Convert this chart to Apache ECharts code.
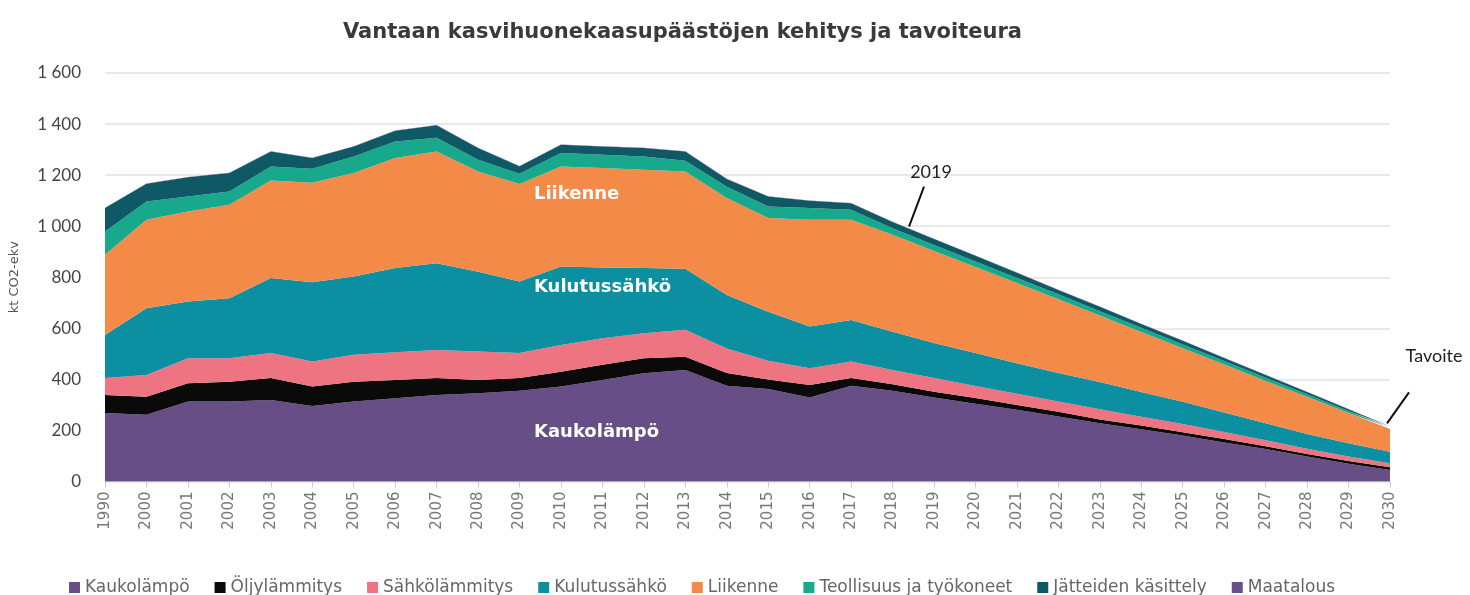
<!DOCTYPE html>
<html>
<head>
<meta charset="utf-8">
<title>Vantaan kasvihuonekaasupäästöt</title>
<script src="https://cdn.jsdelivr.net/npm/echarts@6/dist/echarts.min.js"></script>
<style>
  html, body { margin: 0; padding: 0; background: #fff; }
  #main { width: 1470px; height: 595px; }
</style>
</head>
<body>
<div id="main"></div>
<script>
// vuodet (1990 + 2000–2030)
const years = ['1990', '2000', '2001', '2002', '2003', '2004', '2005', '2006', '2007', '2008',
  '2009', '2010', '2011', '2012', '2013', '2014', '2015', '2016', '2017', '2018', '2019',
  '2020', '2021', '2022', '2023', '2024', '2025', '2026', '2027', '2028', '2029', '2030']

// kt CO2-ekv, luettu kuvasta
const kaukolampo = [268, 261, 313, 313, 319, 296, 313, 326, 339, 346, 355, 372, 398, 424, 437, 375,
  362, 329, 375, 355, 329, 305, 281, 255, 228, 205, 180, 153, 127, 98, 70, 45]
const oljylammitys = [71, 71, 72, 78, 86, 76, 78, 72, 66, 52, 50, 58, 59, 59, 52, 50,
  38, 49, 30, 26, 23, 22, 19, 18, 15, 14, 13, 13, 11, 10, 10, 11]
const sahkolammitys = [66, 85, 98, 92, 98, 98, 105, 108, 110, 111, 98, 105, 104, 98, 105, 96,
  73, 66, 65, 56, 53, 47, 44, 40, 40, 35, 32, 28, 24, 20, 18, 15]
const kulutussahko = [169, 262, 222, 235, 294, 310, 307, 330, 340, 313, 280, 307, 277, 255, 239, 209,
  192, 163, 163, 150, 137, 129, 119, 112, 107, 97, 87, 76, 66, 58, 52, 46]
const liikenne = [314, 346, 353, 366, 382, 390, 405, 431, 438, 392, 382, 392, 390, 385, 381, 380,
  367, 418, 392, 379, 361, 337, 314, 289, 260, 235, 210, 188, 166, 146, 118, 89]
const teollisuus = [91, 72, 58, 52, 55, 55, 65, 65, 53, 46, 40, 53, 52, 52, 42, 44,
  45, 46, 39, 26, 23, 22, 20, 19, 17, 16, 15, 14, 12, 10, 8, 5]
const jatteet = [92, 69, 76, 72, 59, 42, 39, 42, 49, 46, 30, 32, 32, 33, 37, 31,
  39, 29, 26, 24, 24, 22, 21, 17, 17, 15, 14, 12, 11, 9, 7, 4]
const maatalous = [1, 1, 1, 1, 1, 1, 1, 1, 1, 1, 1, 1, 1, 1, 1, 1,
  1, 1, 1, 1, 1, 1, 1, 1, 1, 1, 1, 1, 1, 1, 1, 1]

const names = ['Kaukolämpö', 'Öljylämmitys', 'Sähkölämmitys', 'Kulutussähkö', 'Liikenne',
  'Teollisuus ja työkoneet', 'Jätteiden käsittely', 'Maatalous']
const colors = ['#674e86', '#0a0a0a', '#ee7482', '#0b8fa1', '#f38a47', '#18a98c', '#0f5966', '#6b4f8c']
const dataList = [kaukolampo, oljylammitys, sahkolammitys, kulutussahko, liikenne, teollisuus, jatteet, maatalous]

const font = 'Lato, "Noto Sans", sans-serif'
const wide = '"DejaVu Sans", sans-serif'

const chart = echarts.init(document.getElementById('main'))

const option = {
  animation: false,
  color: colors,
  title: {
    text: 'Vantaan kasvihuonekaasupäästöjen kehitys ja tavoiteura',
    left: 338,
    top: 17,
    textStyle: { fontFamily: wide, fontSize: 21, fontWeight: 'bold', color: '#3a3a3a' }
  },
  legend: {
    data: names,
    top: 574,
    left: 64,
    icon: 'rect',
    itemWidth: 11,
    itemHeight: 11,
    itemGap: 25,
    textStyle: { fontFamily: wide, fontSize: 17, color: '#666' }
  },
  grid: { left: 104, right: 80, top: 73, bottom: 113.5 },
  xAxis: {
    type: 'category',
    data: years,
    boundaryGap: false,
    axisLine: { show: true, lineStyle: { color: '#ccc' } },
    axisTick: { show: true, length: 6, lineStyle: { color: '#ccc' } },
    axisLabel: { rotate: 90, fontFamily: wide, fontSize: 15, color: '#777', margin: 10 }
  },
  yAxis: {
    type: 'value',
    min: 0,
    max: 1600,
    interval: 200,
    name: 'kt CO2-ekv',
    nameLocation: 'middle',
    nameGap: 84,
    nameRotate: 90,
    nameTextStyle: { fontFamily: wide, fontSize: 13, color: '#555' },
    axisLine: { show: false },
    axisTick: { show: false },
    axisLabel: {
      fontFamily: font,
      fontSize: 17,
      color: '#444',
      margin: 24,
      formatter: v => v >= 1000 ? String(v).replace(/(\d)(\d{3})$/, '$1 $2') : String(v)
    },
    splitLine: { lineStyle: { color: '#e2e2e2', width: 1.5 } }
  },
  series: names.map((n, i) => ({
    name: n,
    type: 'line',
    stack: 'total',
    symbol: 'none',
    lineStyle: { width: 0 },
    areaStyle: { opacity: 1, color: colors[i] },
    emphasis: { disabled: true },
    data: dataList[i]
  }))
}

chart.setOption(option)

// merkinnät kaavion omien koordinaattien mukaan
const total = i => dataList.reduce((s, arr) => s + arr[i], 0)
const p2019 = chart.convertToPixel({ gridIndex: 0 }, ['2019', total(years.indexOf('2019'))])
const p2030 = chart.convertToPixel({ gridIndex: 0 }, ['2030', total(years.indexOf('2030'))])
const pLiik = chart.convertToPixel({ gridIndex: 0 }, ['2010', 1123])
const pKulu = chart.convertToPixel({ gridIndex: 0 }, ['2010', 762])
const pKauko = chart.convertToPixel({ gridIndex: 0 }, ['2010', 194])

const inlineText = (p, txt) => ({
  type: 'text',
  z: 100,
  x: p[0] - 27,
  y: p[1],
  style: {
    text: txt, fill: '#fff', fontFamily: wide, fontSize: 18, fontWeight: 'bold',
    align: 'left', verticalAlign: 'middle'
  }
})

chart.setOption({
  graphic: [
    inlineText(pLiik, 'Liikenne'),
    inlineText(pKulu, 'Kulutussähkö'),
    inlineText(pKauko, 'Kaukolämpö'),
    {
      type: 'text',
      z: 100,
      x: p2019[0] - 3,
      y: p2019[1] - 67,
      style: { text: '2019', fill: '#222', fontFamily: font, fontSize: 18, align: 'center', verticalAlign: 'middle' }
    },
    {
      type: 'line',
      z: 100,
      shape: { x1: p2019[0] - 10, y1: p2019[1] - 52, x2: p2019[0] - 25, y2: p2019[1] - 12 },
      style: { stroke: '#111', lineWidth: 2 }
    },
    {
      type: 'text',
      z: 100,
      x: p2030[0] + 44,
      y: p2030[1] - 70,
      style: { text: 'Tavoite', fill: '#222', fontFamily: font, fontSize: 18, align: 'center', verticalAlign: 'middle' }
    },
    {
      type: 'line',
      z: 100,
      shape: { x1: p2030[0] + 19, y1: p2030[1] - 34, x2: p2030[0] - 3, y2: p2030[1] - 3 },
      style: { stroke: '#111', lineWidth: 2 }
    }
  ]
})
</script>
</body>
</html>
